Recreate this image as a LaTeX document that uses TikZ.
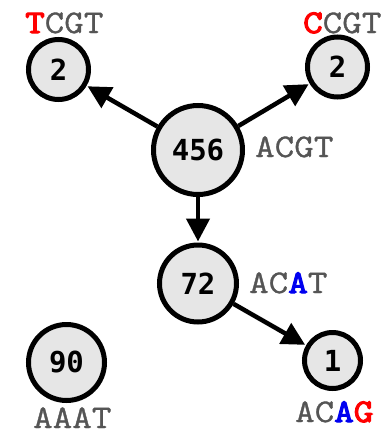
\documentclass[tikz,border=0pt]{standalone}
\usepackage{fontspec}
\usetikzlibrary{arrows.meta}
\newfontfamily\seqfont[FakeStretch=1.15,FakeBold=1]{Latin Modern Mono}
\newfontfamily\seqbold[FakeStretch=1.15,FakeBold=3.5]{Latin Modern Mono}
\newfontfamily\numfont{DejaVu Sans Mono}
\definecolor{seqgray}{HTML}{555555}
\definecolor{cellfill}{HTML}{E6E6E6}
\definecolor{mutred}{HTML}{FF0000}
\definecolor{mutblue}{HTML}{0000F0}
\tikzset{
  cnt/.style={circle, draw=black, line width=5pt, fill=cellfill, inner sep=0pt,
              font=\numfont\bfseries\fontsize{29}{29}\selectfont},
  seq/.style={anchor=base west, inner sep=0pt, text=seqgray,
              font=\seqfont\fontsize{33}{33}\selectfont},
  arr/.style={line width=4.5pt, -{Triangle[length=23pt,width=23pt]}, shorten >=1pt},
}
\newcommand{\mr}[1]{\textcolor{mutred}{\seqbold #1}}
\newcommand{\mb}[1]{\textcolor{mutblue}{\seqbold #1}}
\begin{document}
\begin{tikzpicture}[x=1pt,y=-1pt]
  \useasboundingbox (0,0) rectangle (382,434);
  % count nodes
  \node[cnt, minimum size=89pt] (root) at (198,150) {456};
  \node[cnt, minimum size=60pt] (tcgt) at (58.5,69.5) {2};
  \node[cnt, minimum size=60pt] (ccgt) at (337.5,67) {2};
  \node[cnt, minimum size=77pt] (acat) at (198,283.5) {72};
  \node[cnt, minimum size=76pt] (aaat) at (66.5,362.5) {90};
  \node[cnt, minimum size=56pt] (acag) at (332.5,360.5) {1};
  % sequence labels
  \node[seq] (ltcgt) at (25,33) {\mr{T}CGT};
  \node[seq] (lccgt) at (303,33) {\mr{C}CGT};
  \node[seq] (lroot) at (255,157) {ACGT};
  \node[seq] (lacat) at (249,293) {AC\mb{A}T};
  \node[seq] (laaat) at (33,428) {AAAT};
  \node[seq] (lacag) at (295,422) {AC\mb{A}\mr{G}};
  % edges
  \draw[arr] (root) -- (tcgt);
  \draw[arr] (root) -- (ccgt);
  \draw[arr] (root) -- (acat);
  \draw[arr] (acat) -- (acag);
\end{tikzpicture}
\end{document}
